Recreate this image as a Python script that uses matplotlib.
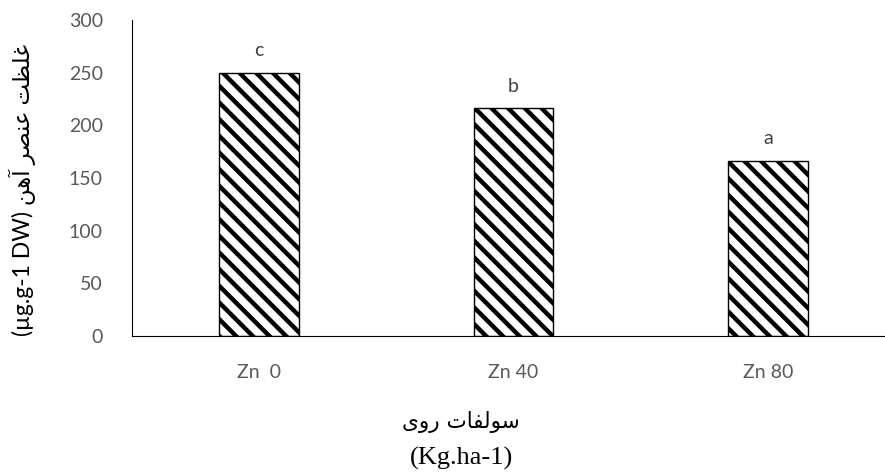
import matplotlib.pyplot as plt

# داده‌ها: غلظت آهن در سطوح سولفات روی
treatments = ["Zn  0", "Zn 40", "Zn 80"]
iron_values = [250, 216, 166]
letters = ["c", "b", "a"]
y_ticks = [0, 50, 100, 150, 200, 250, 300]

# متن فارسی به صورت حروف نمایشی و ترتیب دیداری (matplotlib شکل‌دهی عربی ندارد)
ylab_fa = "\uFEE6\uFEEB\uFE81 \uFEAE\uFEBC\uFEE8\uFECB \uFE96\uFEC8\uFEE0\uFECF"
xlab_fa = "\uFEEF\uFEED\uFEAD \uFE95\uFE8E\uFED4\uFEDF\uFEEE\uFEB3"

plt.rcParams['font.family'] = ['Lato', 'DejaVu Sans']
plt.rcParams['hatch.linewidth'] = 3.2

fig = plt.figure(figsize=(8.85, 4.75), dpi=100)
ax = fig.add_axes([132 / 885, 1 - 336 / 475, (895 - 132) / 885, 316 / 475])

x = range(len(treatments))
ax.bar(x, iron_values, width=0.314, color='white', edgecolor='black',
       linewidth=1.0, hatch='\\\\')

for i, (v, s) in enumerate(zip(iron_values, letters)):
    ax.annotate(s, (i, v), xytext=(0, 16), textcoords='offset points',
                ha='center', va='center', fontsize=14, color='#404040')

ax.set_xlim(-0.5, 2.5)
ax.set_ylim(0, 300)
ax.set_yticks(y_ticks)
ax.set_xticks(list(x))
ax.set_xticklabels(treatments)
ax.tick_params(axis='both', length=0, labelsize=14, labelcolor='#595959')
ax.tick_params(axis='y', pad=21)
ax.tick_params(axis='x', pad=20)

ax.spines['top'].set_visible(False)
ax.spines['right'].set_visible(False)
ax.spines['left'].set_color('black')
ax.spines['bottom'].set_color('black')

# برچسب محور عمودی
fig.text(22 / 885, 1 - 190 / 475, "(\u00b5g.g-1 DW) " + ylab_fa, rotation=90,
         ha='center', va='center', fontsize=16.5, color='black')

# برچسب محور افقی
fig.text(461 / 885, 1 - 422 / 475, xlab_fa, ha='center', va='center',
         fontsize=15.5, color='black', family='DejaVu Sans')
fig.text(461 / 885, 1 - 458 / 475, "(Kg.ha-1)", ha='center', va='center',
         fontsize=19, color='black', family='Liberation Serif')

fig.savefig('out.png', dpi=100)
